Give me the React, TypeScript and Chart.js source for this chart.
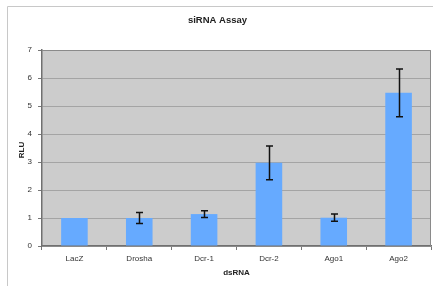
import React, { useEffect, useRef } from "react";
import { Chart, registerables } from "chart.js";

Chart.register(...registerables);

const categories = ["LacZ", "Drosha", "Dcr-1", "Dcr-2", "Ago1", "Ago2"];
const means = [1.0, 1.0, 1.14, 2.97, 1.01, 5.47];
const errors = [0, 0.2, 0.12, 0.6, 0.13, 0.85];
const yTicks = [0, 1, 2, 3, 4, 5, 6, 7];
const titleText = "siRNA Assay";
const xTitle = "dsRNA";
const yTitle = "RLU";

const FONT = "'Liberation Sans', Arial, sans-serif";

const decorPlugin = {
  id: "decor",
  beforeDraw(chart: any) {
    const { ctx, chartArea } = chart;
    ctx.save();
    // outer frame (top and left)
    ctx.strokeStyle = "#c8c8c8";
    ctx.lineWidth = 1;
    ctx.beginPath();
    ctx.moveTo(7.5, chart.height);
    ctx.lineTo(7.5, 6.5);
    ctx.lineTo(chart.width, 6.5);
    ctx.stroke();
    // plot background
    ctx.fillStyle = "#cccccc";
    ctx.fillRect(chartArea.left, chartArea.top, chartArea.right - chartArea.left, chartArea.bottom - chartArea.top);
    ctx.restore();
  },
  afterDraw(chart: any) {
    const { ctx, chartArea } = chart;
    const xs = chart.scales.x;
    const ys = chart.scales.y;
    ctx.save();
    // plot frame top/right
    ctx.strokeStyle = "#8a8a8a";
    ctx.lineWidth = 1;
    ctx.beginPath();
    ctx.moveTo(chartArea.left, chartArea.top + 0.5);
    ctx.lineTo(chartArea.right - 0.5, chartArea.top + 0.5);
    ctx.lineTo(chartArea.right - 0.5, chartArea.bottom);
    ctx.stroke();
    // error bars
    ctx.strokeStyle = "#111111";
    ctx.lineWidth = 1.5;
    means.forEach((m, i) => {
      const e = errors[i];
      if (!e) return;
      const x = Math.round(xs.getPixelForValue(i)) + 0.5;
      const yt = ys.getPixelForValue(m + e);
      const yb = ys.getPixelForValue(m - e);
      ctx.beginPath();
      ctx.moveTo(x, yt);
      ctx.lineTo(x, yb);
      ctx.moveTo(x - 3.5, yt);
      ctx.lineTo(x + 3.5, yt);
      ctx.moveTo(x - 3.5, yb);
      ctx.lineTo(x + 3.5, yb);
      ctx.stroke();
    });
    // texts
    ctx.fillStyle = "#222222";
    ctx.textAlign = "center";
    ctx.textBaseline = "middle";
    ctx.font = `bold 9.5px ${FONT}`;
    ctx.fillText(titleText, 217.5, 20);
    ctx.font = `bold 8px ${FONT}`;
    ctx.fillText(xTitle, (chartArea.left + chartArea.right) / 2, 273);
    ctx.translate(22, (chartArea.top + chartArea.bottom) / 2 + 2);
    ctx.rotate(-Math.PI / 2);
    ctx.fillText(yTitle, 0, 0);
    ctx.restore();
  },
};

export default function App() {
  const ref = useRef<HTMLCanvasElement>(null);
  useEffect(() => {
    document.body.style.margin = "0";
    const chart = new Chart(ref.current!, {
      type: "bar",
      data: {
        labels: categories,
        datasets: [
          {
            data: means,
            backgroundColor: "#66aaff",
            borderWidth: 0,
            categoryPercentage: 0.41,
            barPercentage: 1,
          },
        ],
      },
      options: {
        responsive: false,
        animation: false,
        layout: { padding: { left: 0, top: 50, right: 2, bottom: 0 } },
        plugins: { legend: { display: false }, title: { display: false }, tooltip: { enabled: false } },
        scales: {
          x: {
            afterFit: (s: any) => { s.height = 40; },
            grid: { drawOnChartArea: false, color: "#777777", tickLength: 4, offset: true },
            border: { color: "#707070", width: 1.5 },
            ticks: { color: "#333333", font: { family: FONT, size: 8 }, padding: 4, maxRotation: 0 },
          },
          y: {
            min: 0,
            max: 7,
            afterFit: (s: any) => { s.width = 42; },
            afterBuildTicks: (s: any) => { s.ticks = yTicks.map((v) => ({ value: v })); },
            grid: { color: "#a4a4a4", tickColor: "#777777", tickLength: 4, lineWidth: 1 },
            border: { color: "#707070", width: 1.5 },
            ticks: { color: "#333333", font: { family: FONT, size: 8 }, padding: 6, stepSize: 1 },
          },
        },
      },
      plugins: [decorPlugin],
    });
    return () => chart.destroy();
  }, []);
  return (
    <div style={{ width: 433, height: 286 }}>
      <canvas ref={ref} width={433} height={286} style={{ display: "block" }} />
    </div>
  );
}
